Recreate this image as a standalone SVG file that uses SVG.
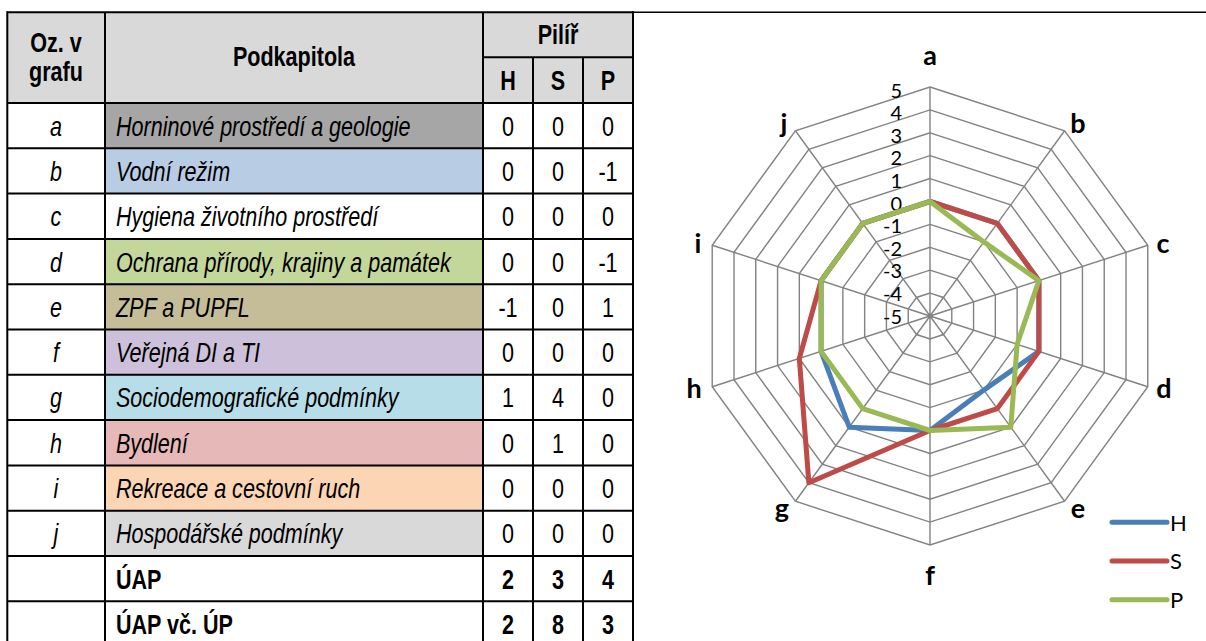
<svg xmlns="http://www.w3.org/2000/svg" width="1206" height="641" viewBox="0 0 1206 641">
<style>
.t{font-family:"Liberation Sans",Arial,sans-serif;font-size:28px;fill:#000;transform:scale(0.77,1)}
.b{font-weight:bold}
.i{font-style:italic}
.c{text-anchor:middle}
.ln{stroke:#000;stroke-width:2;fill:none}
.grid{fill:none;stroke:#828282;stroke-width:1.4}
.ser{fill:none;stroke-width:5;stroke-linejoin:round}
.lbl{font-family:Lato,"Noto Sans",sans-serif;font-weight:bold;font-size:27px;text-anchor:middle;fill:#000}
.tick{font-family:Lato,"Noto Sans",sans-serif;font-size:20px;text-anchor:end;fill:#000}
.leg{font-family:Lato,"Noto Sans",sans-serif;font-size:22px;fill:#000}
</style>

<g id="table">
  <g id="header">
    <rect x="7" y="12" width="626" height="91" fill="#d9d9d9"/>
    <text class="t b c" x="72.7" y="52"><tspan x="72.7" y="52">Oz. v</tspan><tspan x="72.7" y="81.5">grafu</tspan></text>
    <text class="t b c" x="381.8" y="66.5">Podkapitola</text>
    <text class="t b c" x="724.7" y="44.5">Pilíř</text>
    <text class="t b c" x="659.7" y="90">H</text>
    <text class="t b c" x="724.7" y="90">S</text>
    <text class="t b c" x="789.6" y="90">P</text>
  </g>
  <g id="row-a">
    <rect x="105" y="103" width="378" height="45.3" fill="#a6a6a6"/>
    <text class="t i c" x="72.7" y="135.7">a</text>
    <text class="t i" x="150.6" y="135.7">Horninové prostředí a geologie</text>
    <text class="t c" x="659.7" y="135.7">0</text><text class="t c" x="724.7" y="135.7">0</text><text class="t c" x="789.6" y="135.7">0</text>
  </g>
  <g id="row-b">
    <rect x="105" y="148.3" width="378" height="45.3" fill="#b8cce4"/>
    <text class="t i c" x="72.7" y="181">b</text>
    <text class="t i" x="150.6" y="181">Vodní režim</text>
    <text class="t c" x="659.7" y="181">0</text><text class="t c" x="724.7" y="181">0</text><text class="t c" x="789.6" y="181">-1</text>
  </g>
  <g id="row-c">
    <text class="t i c" x="72.7" y="226.3">c</text>
    <text class="t i" x="150.6" y="226.3">Hygiena životního prostředí</text>
    <text class="t c" x="659.7" y="226.3">0</text><text class="t c" x="724.7" y="226.3">0</text><text class="t c" x="789.6" y="226.3">0</text>
  </g>
  <g id="row-d">
    <rect x="105" y="238.9" width="378" height="45.3" fill="#c4d79b"/>
    <text class="t i c" x="72.7" y="271.6">d</text>
    <text class="t i" x="150.6" y="271.6">Ochrana přírody, krajiny a památek</text>
    <text class="t c" x="659.7" y="271.6">0</text><text class="t c" x="724.7" y="271.6">0</text><text class="t c" x="789.6" y="271.6">-1</text>
  </g>
  <g id="row-e">
    <rect x="105" y="284.2" width="378" height="45.3" fill="#c4bd97"/>
    <text class="t i c" x="72.7" y="316.9">e</text>
    <text class="t i" x="150.6" y="316.9">ZPF a PUPFL</text>
    <text class="t c" x="659.7" y="316.9">-1</text><text class="t c" x="724.7" y="316.9">0</text><text class="t c" x="789.6" y="316.9">1</text>
  </g>
  <g id="row-f">
    <rect x="105" y="329.5" width="378" height="45.3" fill="#ccc0da"/>
    <text class="t i c" x="72.7" y="362.2">f</text>
    <text class="t i" x="150.6" y="362.2">Veřejná DI a TI</text>
    <text class="t c" x="659.7" y="362.2">0</text><text class="t c" x="724.7" y="362.2">0</text><text class="t c" x="789.6" y="362.2">0</text>
  </g>
  <g id="row-g">
    <rect x="105" y="374.8" width="378" height="45.3" fill="#b7dee8"/>
    <text class="t i c" x="72.7" y="407.5">g</text>
    <text class="t i" x="150.6" y="407.5">Sociodemografické podmínky</text>
    <text class="t c" x="659.7" y="407.5">1</text><text class="t c" x="724.7" y="407.5">4</text><text class="t c" x="789.6" y="407.5">0</text>
  </g>
  <g id="row-h">
    <rect x="105" y="420.1" width="378" height="45.3" fill="#e6b8b7"/>
    <text class="t i c" x="72.7" y="452.8">h</text>
    <text class="t i" x="150.6" y="452.8">Bydlení</text>
    <text class="t c" x="659.7" y="452.8">0</text><text class="t c" x="724.7" y="452.8">1</text><text class="t c" x="789.6" y="452.8">0</text>
  </g>
  <g id="row-i">
    <rect x="105" y="465.4" width="378" height="45.3" fill="#fcd5b4"/>
    <text class="t i c" x="72.7" y="498.1">i</text>
    <text class="t i" x="150.6" y="498.1">Rekreace a cestovní ruch</text>
    <text class="t c" x="659.7" y="498.1">0</text><text class="t c" x="724.7" y="498.1">0</text><text class="t c" x="789.6" y="498.1">0</text>
  </g>
  <g id="row-j">
    <rect x="105" y="510.7" width="378" height="45.3" fill="#d9d9d9"/>
    <text class="t i c" x="72.7" y="543.4">j</text>
    <text class="t i" x="150.6" y="543.4">Hospodářské podmínky</text>
    <text class="t c" x="659.7" y="543.4">0</text><text class="t c" x="724.7" y="543.4">0</text><text class="t c" x="789.6" y="543.4">0</text>
  </g>
  <g id="row-uap">
    <text class="t b" x="150.6" y="588.7">ÚAP</text>
    <text class="t b c" x="659.7" y="588.7">2</text><text class="t b c" x="724.7" y="588.7">3</text><text class="t b c" x="789.6" y="588.7">4</text>
  </g>
  <g id="row-uap-up">
    <text class="t b" x="150.6" y="634">ÚAP vč. ÚP</text>
    <text class="t b c" x="659.7" y="634">2</text><text class="t b c" x="724.7" y="634">8</text><text class="t b c" x="789.6" y="634">3</text>
  </g>
  <g id="table-lines" class="ln">
    <path d="M7 12.3H633M483 57.3H633M7 103H633M7 148.3H633M7 193.6H633M7 238.9H633M7 284.2H633M7 329.5H633M7 374.8H633M7 420.1H633M7 465.4H633M7 510.7H633M7 556H633M7 601.3H633"/>
    <path d="M7.3 11.3V641M105 12.3V641M483 12.3V641M533 57.3V641M583 57.3V641M633 11.3V641"/>
  </g>
  <path d="M633 12.3H1206" stroke="#000" stroke-width="1.6"/>
</g>

<g id="radar">
  <g id="grid" class="grid" transform="translate(930 316)">
    <polygon points="0,-22.9 13.46,-18.53 21.78,-7.08 21.78,7.08 13.46,18.53 0,22.9 -13.46,18.53 -21.78,7.08 -21.78,-7.08 -13.46,-18.53"/>
    <polygon points="0,-45.8 26.92,-37.05 43.56,-14.15 43.56,14.15 26.92,37.05 0,45.8 -26.92,37.05 -43.56,14.15 -43.56,-14.15 -26.92,-37.05"/>
    <polygon points="0,-68.7 40.38,-55.58 65.34,-21.23 65.34,21.23 40.38,55.58 0,68.7 -40.38,55.58 -65.34,21.23 -65.34,-21.23 -40.38,-55.58"/>
    <polygon points="0,-91.6 53.84,-74.11 87.12,-28.31 87.12,28.31 53.84,74.11 0,91.6 -53.84,74.11 -87.12,28.31 -87.12,-28.31 -53.84,-74.11"/>
    <polygon points="0,-114.5 67.3,-92.63 108.9,-35.38 108.9,35.38 67.3,92.63 0,114.5 -67.3,92.63 -108.9,35.38 -108.9,-35.38 -67.3,-92.63"/>
    <polygon points="0,-137.4 80.76,-111.16 130.68,-42.46 130.68,42.46 80.76,111.16 0,137.4 -80.76,111.16 -130.68,42.46 -130.68,-42.46 -80.76,-111.16"/>
    <polygon points="0,-160.3 94.22,-129.69 152.45,-49.54 152.45,49.54 94.22,129.69 0,160.3 -94.22,129.69 -152.45,49.54 -152.45,-49.54 -94.22,-129.69"/>
    <polygon points="0,-183.2 107.68,-148.21 174.23,-56.61 174.23,56.61 107.68,148.21 0,183.2 -107.68,148.21 -174.23,56.61 -174.23,-56.61 -107.68,-148.21"/>
    <polygon points="0,-206.1 121.14,-166.74 196.01,-63.69 196.01,63.69 121.14,166.74 0,206.1 -121.14,166.74 -196.01,63.69 -196.01,-63.69 -121.14,-166.74"/>
    <polygon points="0,-229 134.6,-185.26 217.79,-70.76 217.79,70.76 134.6,185.26 0,229 -134.6,185.26 -217.79,70.76 -217.79,-70.76 -134.6,-185.26"/>
    <path d="M0 0L0 -229M0 0L134.6 -185.26M0 0L217.79 -70.76M0 0L217.79 70.76M0 0L134.6 185.26M0 0L0 229M0 0L-134.6 185.26M0 0L-217.79 70.76M0 0L-217.79 -70.76M0 0L-134.6 -185.26"/>
  </g>
  <g id="ticks" class="tick">
    <text x="902" y="97.5">5</text>
    <text x="902" y="120.1">4</text>
    <text x="902" y="142.7">3</text>
    <text x="902" y="165.3">2</text>
    <text x="902" y="187.9">1</text>
    <text x="902" y="210.5">0</text>
    <text x="902" y="233.1">-1</text>
    <text x="902" y="255.7">-2</text>
    <text x="902" y="278.3">-3</text>
    <text x="902" y="300.9">-4</text>
    <text x="902" y="323.5">-5</text>
  </g>
  <g id="series" transform="translate(930 316)">
    <polygon id="series-H" class="ser" stroke="#4a7ebb" points="0,-114.5 67.3,-92.63 108.9,-35.38 108.9,35.38 53.84,74.11 0,114.5 -80.76,111.16 -108.9,35.38 -108.9,-35.38 -67.3,-92.63"/>
    <polygon id="series-S" class="ser" stroke="#be4b48" points="0,-114.5 67.3,-92.63 108.9,-35.38 108.9,35.38 67.3,92.63 0,114.5 -121.14,166.74 -130.68,42.46 -108.9,-35.38 -67.3,-92.63"/>
    <polygon id="series-P" class="ser" stroke="#98b954" points="0,-114.5 53.84,-74.11 108.9,-35.38 87.12,28.31 80.76,111.16 0,114.5 -67.3,92.63 -108.9,35.38 -108.9,-35.38 -67.3,-92.63"/>
  </g>
  <g id="axis-labels" class="lbl">
    <text id="lbl-a" x="930" y="65">a</text>
    <text id="lbl-b" x="1078" y="133">b</text>
    <text id="lbl-c" x="1163" y="253">c</text>
    <text id="lbl-d" x="1164" y="398">d</text>
    <text id="lbl-e" x="1078" y="518">e</text>
    <text id="lbl-f" x="930" y="585">f</text>
    <text id="lbl-g" x="782" y="518">g</text>
    <text id="lbl-h" x="694" y="398">h</text>
    <text id="lbl-i" x="698" y="253">i</text>
    <text id="lbl-j" x="784" y="133">j</text>
  </g>
  <g id="legend">
    <g id="leg-H"><path d="M1112 522.3H1167" stroke="#4a7ebb" stroke-width="5" stroke-linecap="round"/><text class="leg" x="1170" y="530.5">H</text></g>
    <g id="leg-S"><path d="M1112 561H1167" stroke="#be4b48" stroke-width="5" stroke-linecap="round"/><text class="leg" x="1170" y="569">S</text></g>
    <g id="leg-P"><path d="M1112 599.7H1167" stroke="#98b954" stroke-width="5" stroke-linecap="round"/><text class="leg" x="1170" y="607.7">P</text></g>
  </g>
</g>
</svg>
